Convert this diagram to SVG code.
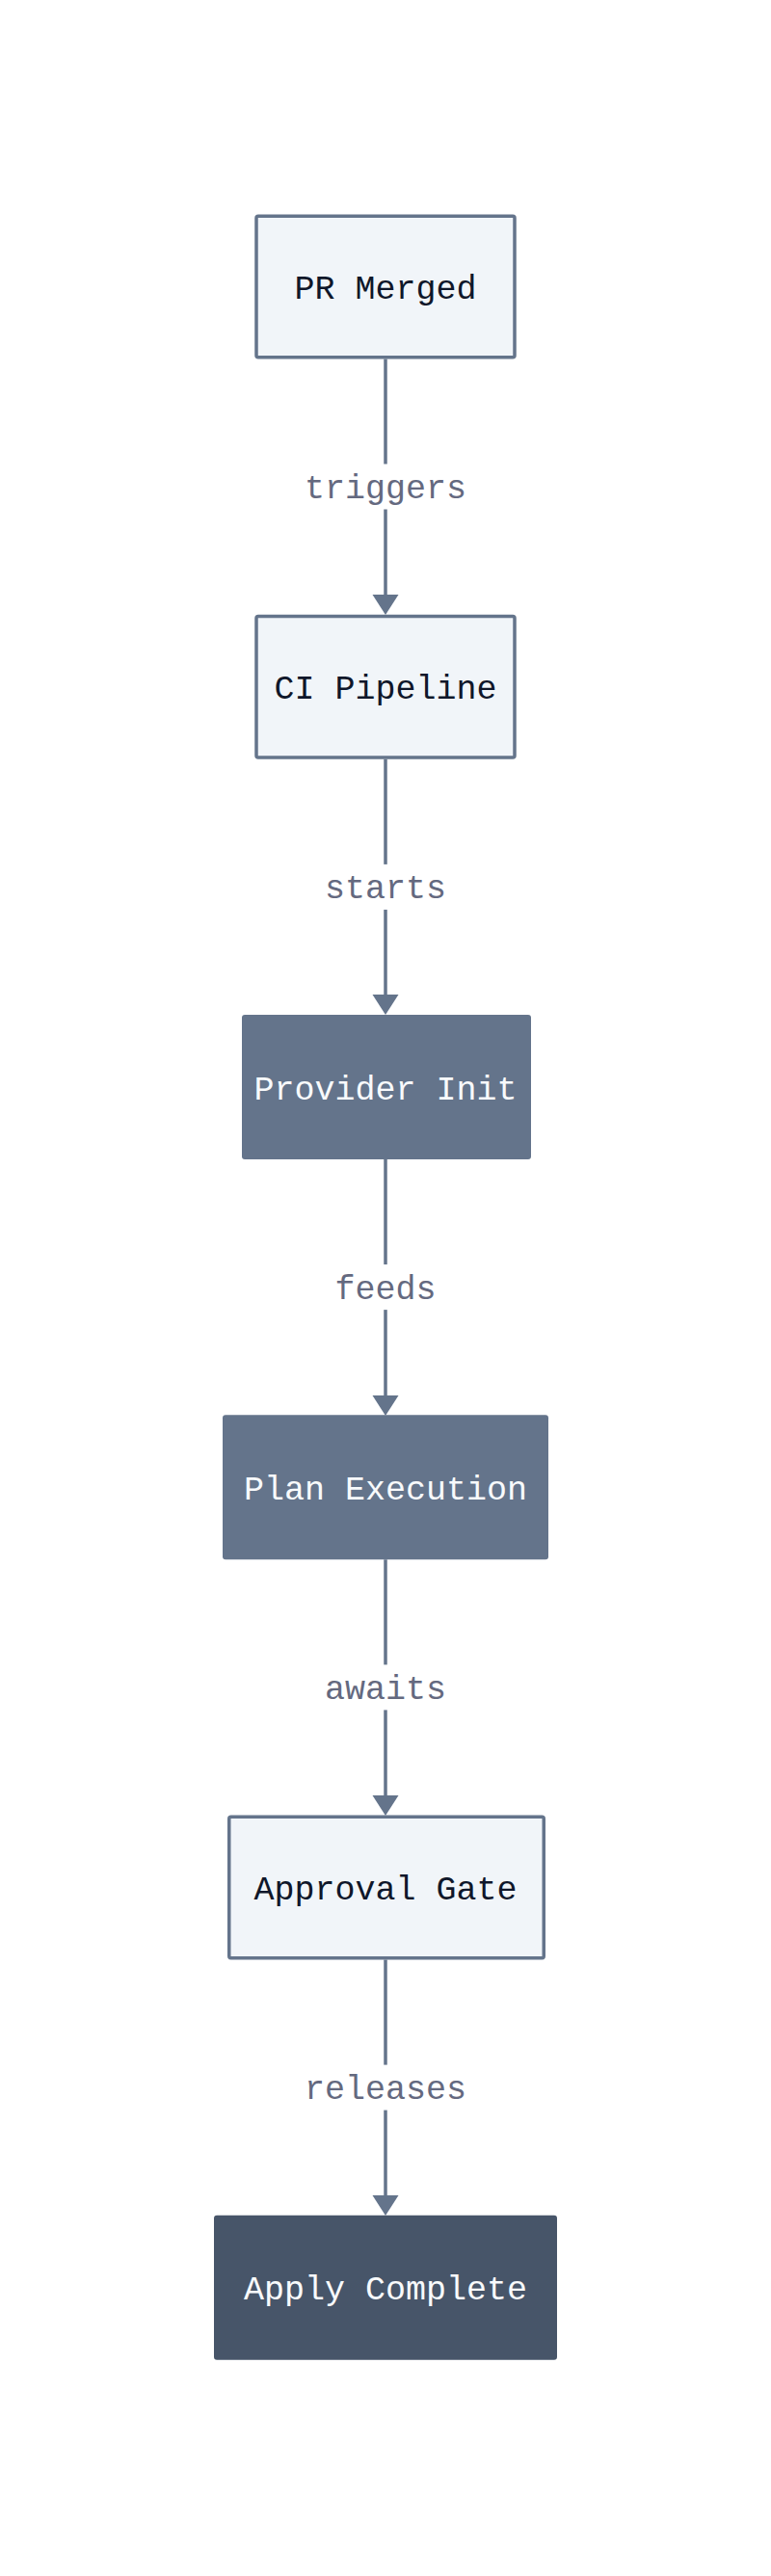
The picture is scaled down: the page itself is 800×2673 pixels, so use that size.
<svg xmlns="http://www.w3.org/2000/svg" width="800" height="2673" viewBox="0 0 800 2673">
<style>
.node text{font-family:"Liberation Mono","DejaVu Sans Mono",monospace;font-size:35px;text-anchor:middle}
.light rect{fill:#f1f5f9;stroke:#64748b;stroke-width:3.5}
.light text{fill:#0f172a}
.mid rect{fill:#64748b}
.dark rect{fill:#475569}
.mid text,.dark text{fill:#f8fafc}
.edge line{stroke:#64748b;stroke-width:3.5}
.edge polygon{fill:#64748b}
.edge rect{fill:#ffffff}
.edge text{font-family:"Liberation Mono","DejaVu Sans Mono",monospace;font-size:35px;fill:#64697f;text-anchor:middle}
</style>
<rect width="800" height="2673" fill="#ffffff"/>
<g id="connectors" class="edge">
  <line x1="400" y1="372.5" x2="400" y2="618"/>
  <polygon points="386.5,617 413.5,617 400,638"/>
  <rect x="300" y="481.5" width="200" height="47"/>
  <text x="400" y="517">triggers</text>

  <line x1="400" y1="787.75" x2="400" y2="1033"/>
  <polygon points="386.5,1032 413.5,1032 400,1053"/>
  <rect x="320" y="896.9" width="160" height="47"/>
  <text x="400" y="932.4">starts</text>

  <line x1="400" y1="1203" x2="400" y2="1449"/>
  <polygon points="386.5,1448 413.5,1448 400,1469"/>
  <rect x="330" y="1312.1" width="140" height="47"/>
  <text x="400" y="1347.6">feeds</text>

  <line x1="400" y1="1618.25" x2="400" y2="1864"/>
  <polygon points="386.5,1863 413.5,1863 400,1884"/>
  <rect x="320" y="1727.4" width="160" height="47"/>
  <text x="400" y="1762.9">awaits</text>

  <line x1="400" y1="2033.5" x2="400" y2="2279"/>
  <polygon points="386.5,2278 413.5,2278 400,2299"/>
  <rect x="300" y="2142.6" width="200" height="47"/>
  <text x="400" y="2178.1">releases</text>
</g>
<g id="pr-merged" class="node light">
  <rect x="266" y="224.25" width="268" height="146.5" rx="2"/>
  <text x="400" y="310">PR Merged</text>
</g>
<g id="ci-pipeline" class="node light">
  <rect x="266" y="639.5" width="268" height="146.5" rx="2"/>
  <text x="400" y="725.25">CI Pipeline</text>
</g>
<g id="provider-init" class="node mid">
  <rect x="251" y="1053" width="300" height="150" rx="3"/>
  <text x="400" y="1140.5">Provider Init</text>
</g>
<g id="plan-execution" class="node mid">
  <rect x="231" y="1468.25" width="338" height="150" rx="3"/>
  <text x="400" y="1555.75">Plan Execution</text>
</g>
<g id="approval-gate" class="node light">
  <rect x="237.75" y="1885.25" width="326.5" height="146.5" rx="2"/>
  <text x="400" y="1971">Approval Gate</text>
</g>
<g id="apply-complete" class="node dark">
  <rect x="222" y="2298.75" width="356" height="150" rx="3"/>
  <text x="400" y="2386.25">Apply Complete</text>
</g>
</svg>
